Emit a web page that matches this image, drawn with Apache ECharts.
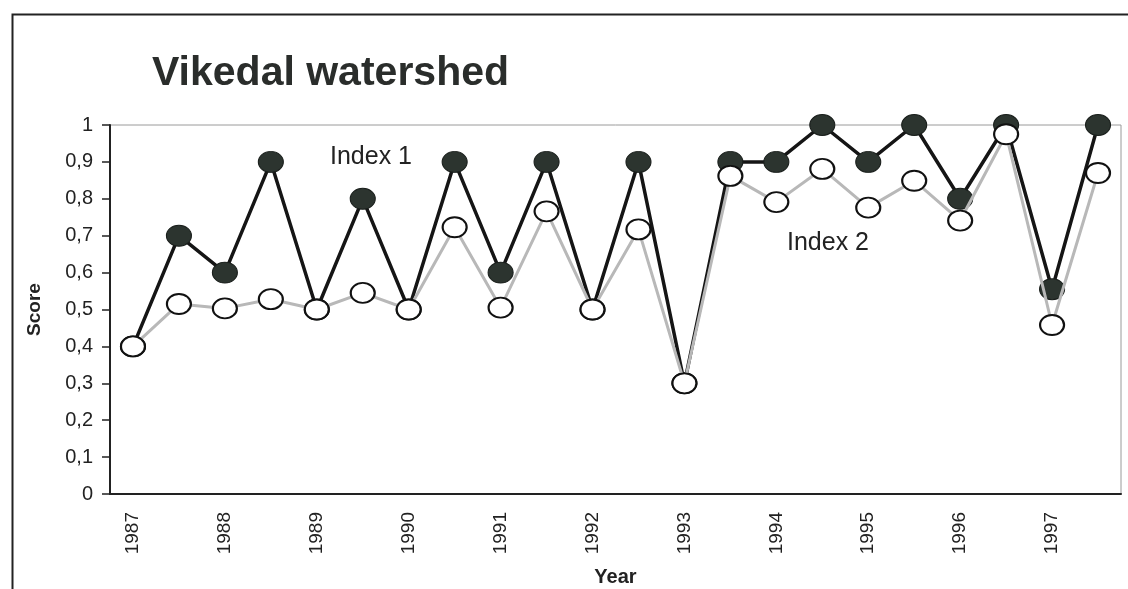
<!DOCTYPE html>
<html>
<head>
<meta charset="utf-8">
<title>Vikedal watershed</title>
<script src="https://cdn.jsdelivr.net/npm/echarts@6/dist/echarts.min.js"></script>
<style>
  html, body { margin: 0; padding: 0; background: #fff; }
  #chart { width: 1128px; height: 589px; }
</style>
</head>
<body>
<div id="chart"></div>
<script>
// half-year steps, only whole years get a label
const periods = [
  '1987', '1987,5', '1988', '1988,5', '1989', '1989,5', '1990', '1990,5',
  '1991', '1991,5', '1992', '1992,5', '1993', '1993,5', '1994', '1994,5',
  '1995', '1995,5', '1996', '1996,5', '1997', '1997,5'
];
const index1 = [0.4, 0.7, 0.6, 0.9, 0.5, 0.8, 0.5, 0.9, 0.6, 0.9, 0.5,
                0.9, 0.3, 0.9, 0.9, 1.0, 0.9, 1.0, 0.8, 1.0, 0.555, 1.0];
const index2 = [0.4, 0.515, 0.503, 0.528, 0.5, 0.545, 0.5, 0.723, 0.505, 0.766, 0.5,
                0.717, 0.3, 0.862, 0.791, 0.881, 0.776, 0.849, 0.741, 0.975, 0.458, 0.87];

const chart = echarts.init(document.getElementById('chart'));
const font = '"Liberation Sans", Arial, sans-serif';

chart.setOption({
  animation: false,
  textStyle: { fontFamily: font },
  title: {
    text: 'Vikedal watershed',
    left: 147,
    top: 48,
    textStyle: { fontSize: 41, fontWeight: 'bold', color: '#2a2d2b', fontFamily: font }
  },
  grid: {
    left: 110, right: 7, top: 125, bottom: 95,
    outerBoundsMode: 'none',
    show: true, borderColor: '#9a9a9a', borderWidth: 1
  },
  graphic: [
    { // outer frame, only top and left edges fall inside the picture
      type: 'rect', left: 10, top: 12,
      shape: { width: 1300, height: 700 },
      style: { fill: 'none', stroke: '#222', lineWidth: 2 }
    },
    { type: 'text', left: 330, top: 145,
      style: { text: 'Index 1', fontSize: 25, fill: '#222', fontFamily: font } },
    { type: 'text', left: 787, top: 231,
      style: { text: 'Index 2', fontSize: 25, fill: '#222', fontFamily: font } }
  ],
  xAxis: {
    type: 'category',
    data: periods,
    boundaryGap: true,
    name: 'Year',
    nameLocation: 'middle',
    nameGap: 73,
    nameTextStyle: { fontSize: 20, fontWeight: 'bold', color: '#222' },
    axisLine: { lineStyle: { color: '#222', width: 2 } },
    axisTick: { interval: 0, length: 7, lineStyle: { color: '#222', width: 1.5 } },
    axisLabel: { interval: 1, rotate: 90, fontSize: 19, color: '#222', margin: 18 },
    splitLine: { show: false }
  },
  yAxis: {
    type: 'value',
    min: 0, max: 1, interval: 0.1,
    name: 'Score',
    nameLocation: 'middle',
    nameGap: 66,
    nameTextStyle: { fontSize: 19, fontWeight: 'bold', color: '#222' },
    axisLine: { show: true, lineStyle: { color: '#222', width: 2 } },
    axisTick: { show: true, length: 8, lineStyle: { color: '#222', width: 1.5 } },
    axisLabel: {
      fontSize: 20, color: '#222', margin: 17,
      formatter: v => String(Math.round(v * 10) / 10).replace('.', ',')
    },
    splitLine: { show: false }
  },
  series: [
    {
      name: 'Index 1',
      type: 'line',
      data: index1,
      symbol: 'circle',
      symbolSize: [25, 21],
      lineStyle: { color: '#151515', width: 3.5 },
      itemStyle: { color: '#2c342f', borderColor: '#1a1f1c', borderWidth: 1 },
      z: 2
    },
    {
      name: 'Index 2',
      type: 'line',
      data: index2,
      symbol: 'circle',
      symbolSize: [24, 20],
      lineStyle: { color: '#b8b8b8', width: 3 },
      itemStyle: { color: '#fff', borderColor: '#111', borderWidth: 2 },
      z: 3
    }
  ]
});
</script>
</body>
</html>
